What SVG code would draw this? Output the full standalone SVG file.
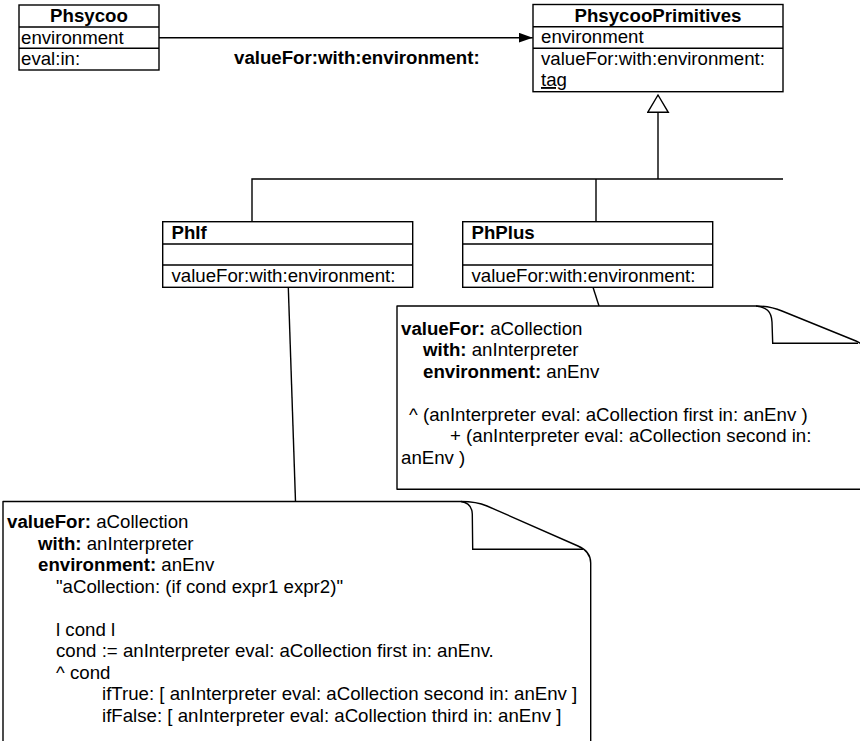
<svg xmlns="http://www.w3.org/2000/svg" width="860" height="741" viewBox="0 0 860 741">
<defs>
<style>
text{font-family:"Liberation Sans",Arial,Helvetica,sans-serif;font-size:18.67px;fill:#000}
.b{font-weight:bold}
.box{fill:#fff;stroke:#000;stroke-width:1.4}
.ln{fill:none;stroke:#000;stroke-width:1.4}
.note{fill:#fff;stroke:#000;stroke-width:1.4;stroke-linejoin:round}
</style>
<marker id="filled" markerUnits="userSpaceOnUse" markerWidth="16" markerHeight="12" refX="14" refY="5" orient="auto">
<path d="M0,0 L14,5 L0,10 Z" fill="#000"/>
</marker>
<marker id="hollow" markerUnits="userSpaceOnUse" markerWidth="20" markerHeight="24" refX="18" refY="11" orient="auto">
<path d="M0.7,0.7 L18,11 L0.7,21.3 Z" fill="#fff" stroke="#000" stroke-width="1.4"/>
</marker>
</defs>
<rect width="860" height="741" fill="#fff"/>

<g id="connectors">
<path class="ln" d="M159,37.7 H532.7" marker-end="url(#filled)"/>
<text class="b" x="234" y="64">valueFor:with:environment:</text>
<path class="ln" d="M252,221.7 V179 H783"/>
<path class="ln" d="M596,221.7 V179"/>
<path class="ln" d="M658,179 V95" marker-end="url(#hollow)"/>
<path class="ln" d="M288.3,287.3 L295.5,501.5"/>
<path class="ln" d="M593,287.3 L599,306"/>
</g>

<g id="Phsycoo">
<rect class="box" x="19" y="5" width="140" height="65"/>
<path class="ln" d="M19,27 H159 M19,48.3 H159"/>
<text class="b" x="89" y="21.5" text-anchor="middle">Phsycoo</text>
<text x="21" y="43.5">environment</text>
<text x="21" y="65">eval:in:</text>
</g>

<g id="PhsycooPrimitives">
<rect class="box" x="533" y="4.5" width="250" height="87.2"/>
<path class="ln" d="M533,26.7 H783 M533,48.3 H783"/>
<text class="b" x="658" y="21.5" text-anchor="middle">PhsycooPrimitives</text>
<text x="541" y="43.3">environment</text>
<text x="541" y="64.8">valueFor:with:environment:</text>
<text x="541" y="86" text-decoration="underline">tag</text>
</g>

<g id="PhIf">
<rect class="box" x="162.7" y="221.7" width="250" height="65.6"/>
<path class="ln" d="M162.7,244 H412.7 M162.7,265 H412.7"/>
<text class="b" x="171.5" y="238.5">PhIf</text>
<text x="171.5" y="281.5">valueFor:with:environment:</text>
</g>

<g id="PhPlus">
<rect class="box" x="462.7" y="221.7" width="250" height="65.6"/>
<path class="ln" d="M462.7,244 H712.7 M462.7,265 H712.7"/>
<text class="b" x="471.5" y="238.5">PhPlus</text>
<text x="471.5" y="281.5">valueFor:with:environment:</text>
</g>

<g id="notePhPlus">
<path class="note" d="M397,306 H756 C768,306 775,308 782,311 L856,341 C863,344 867,350 867,358 V489.3 H397 Z"/>
<path class="ln" d="M756,306 C766,307 771.5,311 772,322 L772.7,343.3 H858"/>
<text x="401" y="334.5"><tspan class="b">valueFor:</tspan> aCollection</text>
<text x="423" y="356"><tspan class="b">with:</tspan> anInterpreter</text>
<text x="423" y="377.5"><tspan class="b">environment:</tspan> anEnv</text>
<text x="409" y="420.5">^ (anInterpreter eval: aCollection first in: anEnv )</text>
<text x="450" y="442">+ (anInterpreter eval: aCollection second in:</text>
<text x="401" y="463.5">anEnv )</text>
</g>

<g id="notePhIf">
<path class="note" d="M3,501.5 H461 C473,501.5 480,503 487,506 L578,546 C585,549 590.7,555 590.7,563 V760 H3 Z"/>
<path class="ln" d="M461,501.5 C468,502.5 472,506 472.3,514 L472.7,549.3 H583"/>
<text x="7" y="528"><tspan class="b">valueFor:</tspan> aCollection</text>
<text x="38" y="549.5"><tspan class="b">with:</tspan> anInterpreter</text>
<text x="38" y="571"><tspan class="b">environment:</tspan> anEnv</text>
<text x="56" y="592.5">"aCollection: (if cond expr1 expr2)"</text>
<text x="56" y="635.5">l cond l</text>
<text x="56" y="657">cond := anInterpreter eval: aCollection first in: anEnv.</text>
<text x="56" y="678.5">^ cond</text>
<text x="102" y="700">ifTrue: [ anInterpreter eval: aCollection second in: anEnv ]</text>
<text x="102" y="721.5">ifFalse: [ anInterpreter eval: aCollection third in: anEnv ]</text>
</g>
</svg>
